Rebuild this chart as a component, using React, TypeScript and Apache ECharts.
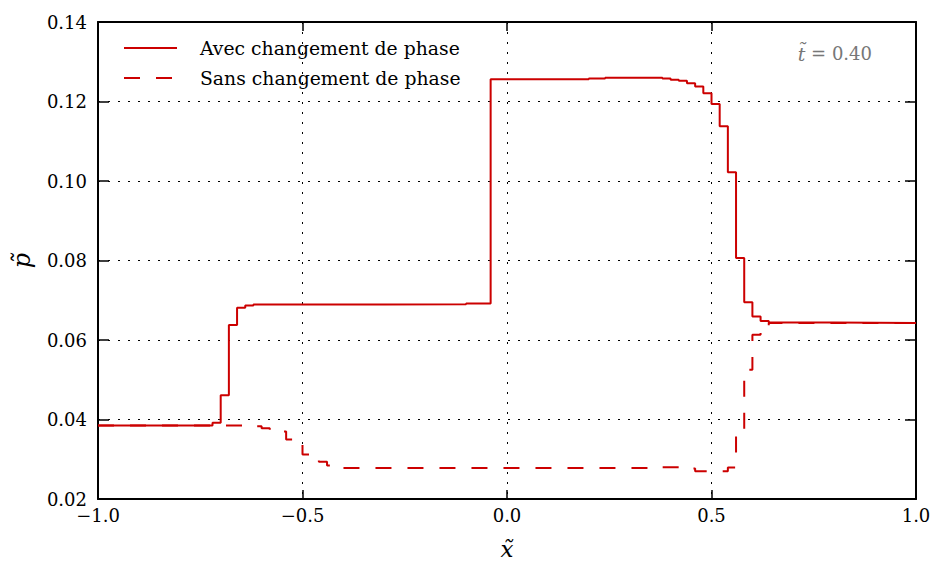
import React, { useEffect, useRef } from "react";
import * as echarts from "echarts";

// Pressure profiles at t = 0.40 (cell boundaries and cell values, step plot)
const avecX = [-1.0, -0.72, -0.70, -0.68, -0.66, -0.64, -0.62, -0.30, -0.10, -0.04, 0.20, 0.24, 0.38, 0.40, 0.42, 0.44, 0.46, 0.48, 0.50, 0.52, 0.54, 0.56, 0.58, 0.60, 0.62, 0.64, 0.80, 1.0];
const avecP = [0.0385, 0.0392, 0.0461, 0.0638, 0.0681, 0.0687, 0.0689, 0.0690, 0.0692, 0.1256, 0.1258, 0.1260, 0.1258, 0.1255, 0.1252, 0.1246, 0.1238, 0.1221, 0.1194, 0.1138, 0.1022, 0.0806, 0.0695, 0.0659, 0.0648, 0.0644, 0.0643, 0.0643];

const sansX = [-1.0, -0.62, -0.60, -0.58, -0.54, -0.50, -0.46, -0.44, -0.42, 0.38, 0.42, 0.46, 0.54, 0.56, 0.58, 0.60, 0.62, 0.64, 0.80, 1.0];
const sansP = [0.0385, 0.0383, 0.0378, 0.0370, 0.0350, 0.0312, 0.0294, 0.0284, 0.0278, 0.0280, 0.0277, 0.0270, 0.0279, 0.0368, 0.0525, 0.0613, 0.0636, 0.0643, 0.0643, 0.0643];

const seriesNames = ["Avec changement de phase", "Sans changement de phase"];
const xTicks = { min: -1.0, max: 1.0, interval: 0.5 };
const yTicks = { min: 0.02, max: 0.14, interval: 0.02 };
const timeVar = "t\u0303";
const timeValue = " = 0.40";

const RED = "#cc0000";
const FONT = "DejaVu Serif";

const fmt = (v: number, d: number) => v.toFixed(d).replace("-", "\u2212");

export default function App() {
  const ref = useRef<HTMLDivElement>(null);
  useEffect(() => {
    if (!ref.current) return;
    const chart = echarts.init(ref.current, undefined, { renderer: "svg" });
    const grid = { left: 98, right: 19, top: 22, bottom: 64, outerBoundsMode: "none", containLabel: false };
    const frame = { show: true, onZero: false, lineStyle: { color: "#000", width: 2 } };
    const tickStyle = (len: number) => ({ show: true, inside: true, length: len, lineStyle: { color: "#000", width: 1.5 } });
    const split = { show: true, lineStyle: { color: "#000", type: [2, 8] as any, width: 1 } };
    const option: any = {
      animation: false,
      backgroundColor: "#fff",
      grid,
      legend: {
        left: 123,
        top: 38,
        orient: "vertical",
        padding: 0,
        itemWidth: 53,
        itemHeight: 20,
        itemGap: 10,
        data: seriesNames,
        itemStyle: { opacity: 0 },
        textStyle: { fontFamily: FONT, fontSize: 18.8, color: "#000", lineHeight: 20, padding: [0, 0, 0, 18] },
      },
      xAxis: [
        {
          type: "value",
          min: xTicks.min,
          max: xTicks.max,
          interval: xTicks.interval,
          axisLine: frame,
          axisTick: tickStyle(9),
          axisLabel: { fontFamily: FONT, fontSize: 18, color: "#000", margin: 7, formatter: (v: number) => fmt(v, 1) },
          splitLine: split,
          name: "x\u0303",
          nameLocation: "middle",
          nameGap: 38,
          nameTextStyle: { fontFamily: FONT, fontStyle: "italic", fontSize: 23, lineHeight: 24, color: "#000" },
        },
        {
          type: "value",
          position: "top",
          min: xTicks.min,
          max: xTicks.max,
          interval: xTicks.interval,
          axisLine: frame,
          axisTick: tickStyle(9),
          axisLabel: { show: false },
          splitLine: { show: false },
        },
      ],
      yAxis: [
        {
          type: "value",
          min: yTicks.min,
          max: yTicks.max,
          interval: yTicks.interval,
          axisLine: frame,
          axisTick: tickStyle(11),
          axisLabel: { fontFamily: FONT, fontSize: 18, color: "#000", margin: 11, formatter: (v: number) => fmt(v, 2) },
          splitLine: split,
          name: "p\u0303",
          nameLocation: "middle",
          nameGap: 64,
          nameRotate: 90,
          nameTextStyle: { fontFamily: FONT, fontStyle: "italic", fontSize: 24, color: "#000" },
        },
        {
          type: "value",
          position: "right",
          min: yTicks.min,
          max: yTicks.max,
          interval: yTicks.interval,
          axisLine: frame,
          axisTick: tickStyle(11),
          axisLabel: { show: false },
          splitLine: { show: false },
        },
      ],
      series: [
        {
          name: seriesNames[0],
          type: "line",
          step: "end",
          showSymbol: false,
          symbol: "none",
          color: RED,
          lineStyle: { color: RED, width: 2 },
          data: avecX.map((x, i) => [x, avecP[i]]),
        },
        {
          name: seriesNames[1],
          type: "line",
          step: "end",
          showSymbol: false,
          symbol: "none",
          color: RED,
          lineStyle: { color: RED, width: 2, type: [16, 16] },
          data: sansX.map((x, i) => [x, sansP[i]]),
        },
      ],
      graphic: [
        {
          type: "text",
          right: 935 - 872,
          top: 44,
          style: {
            text: "{i|" + timeVar + "}{n|" + timeValue + "}",
            rich: {
              i: { fontFamily: FONT, fontStyle: "italic", fontSize: 19, fill: "#777", color: "#777" },
              n: { fontFamily: FONT, fontSize: 18, fill: "#777", color: "#777" },
            },
            fill: "#777",
          },
        },
      ],
    };
    chart.setOption(option);
    return () => chart.dispose();
  }, []);
  return <div ref={ref} style={{ position: "fixed", left: 0, top: 0, width: 935, height: 563 }} />;
}
